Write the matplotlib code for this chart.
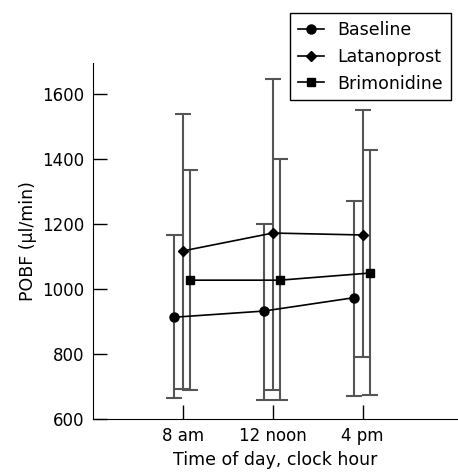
import matplotlib
matplotlib.use("Agg")
import matplotlib.pyplot as plt
import numpy as np

# data
times = ["8 am", "12 noon", "4 pm"]
baseline = [913, 932, 973]
baseline_hi = [1166, 1200, 1272]
baseline_lo = [664, 657, 671]
latanoprost = [1117, 1172, 1166]
latanoprost_hi = [1538, 1647, 1549]
latanoprost_lo = [692, 688, 791]
brimonidine = [1027, 1027, 1049]
brimonidine_hi = [1367, 1401, 1426]
brimonidine_lo = [689, 657, 674]

plt.rcParams['font.family'] = ['DejaVu Sans']
fig = plt.figure(figsize=(4.58, 4.72), dpi=100)
ax = fig.add_axes([0.203, 0.1123, 0.797, 0.7542])

x = np.arange(1, len(times) + 1)
series = [
    ("Baseline", baseline, baseline_lo, baseline_hi, -0.1, 'o', 6.5),
    ("Latanoprost", latanoprost, latanoprost_lo, latanoprost_hi, 0.0, 'D', 5.5),
    ("Brimonidine", brimonidine, brimonidine_lo, brimonidine_hi, 0.08, 's', 5.5),
]
for name, vals, lo, hi, off, mk, ms in series:
    vals = np.array(vals)
    yerr = [vals - np.array(lo), np.array(hi) - vals]
    ax.errorbar(x + off, vals, yerr=yerr, fmt='none', ecolor='#555555',
                elinewidth=1.5, capsize=6, capthick=1.5, zorder=1)
    ax.plot(x + off, vals, color='black', lw=1.2, marker=mk, ms=ms,
            label=name, zorder=3)

ax.set_xlim(0, 4.06)
ax.set_ylim(600, 1695)
ax.set_xticks(x)
ax.set_xticklabels(times)
ax.set_yticks([600, 800, 1000, 1200, 1400, 1600])
ax.tick_params(direction='in', length=10, width=1, labelsize=12, pad=6)
for s in ['top', 'right']:
    ax.spines[s].set_visible(False)
ax.set_ylabel("POBF (\u00b5l/min)", fontsize=12.5)
ax.set_xlabel("Time of day, clock hour", fontsize=12.5, labelpad=4)

leg = fig.legend(loc='upper right', bbox_to_anchor=(1.004, 0.99),
                 fontsize=12.5, fancybox=False, edgecolor='black',
                 framealpha=1, handlelength=1.5, borderpad=0.45,
                 labelspacing=0.5)
leg.get_frame().set_linewidth(1)

fig.savefig("out.png", dpi=100)
